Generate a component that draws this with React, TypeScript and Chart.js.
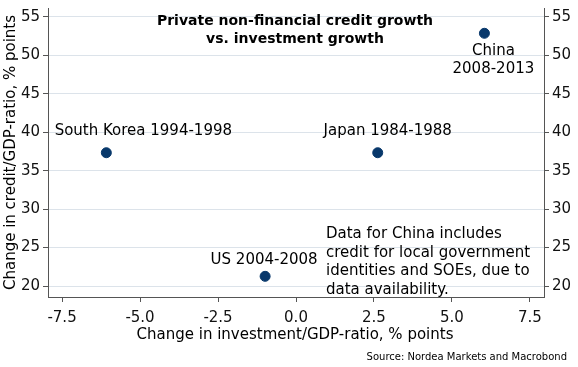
import React, { useEffect, useRef } from "react";
import { Chart, registerables } from "chart.js";

Chart.register(...registerables);

// ---- data ----
const pointLabels: string[][] = [
  ["South Korea 1994-1998"],
  ["Japan 1984-1988"],
  ["China", "2008-2013"],
  ["US 2004-2008"],
];
const investmentChange = [-6.08, 2.62, 6.04, -0.99];
const creditChange = [37.34, 37.34, 52.88, 21.26];
const titleLines = ["Private non-financial credit growth", "vs. investment growth"];
const noteLines = [
  "Data for China includes",
  "credit for local government",
  "identities and SOEs, due to",
  "data availability.",
];
const xAxisTitle = "Change in investment/GDP-ratio, % points";
const yAxisTitle = "Change in credit/GDP-ratio, % points";
const sourceText = "Source: Nordea Markets and Macrobond";
const xRange = [-7.95, 7.95];
const yRange = [18.57, 56.17];

// ---- layout (label offsets relative to point, in px: dx, baseline dy) ----
const labelOffsets: number[][] = [
  [37, -17.7],
  [10, -17.7],
  [9, 21.7],
  [-1, -12.3],
];

const FONT = '"DejaVu Sans", Verdana, sans-serif';
const NAVY = "#08386b";
const AXIS = "#555555";
const GRID = "#dce3ea";

const textPlugin = {
  id: "texts",
  afterDraw(chart: any) {
    const { ctx } = chart;
    ctx.save();
    ctx.fillStyle = "#000";
    ctx.textBaseline = "alphabetic";

    // title
    ctx.font = `bold 14px ${FONT}`;
    ctx.textAlign = "center";
    titleLines.forEach((t, i) => ctx.fillText(t, 295, 25 + i * 18));

    // point labels
    ctx.font = `15px ${FONT}`;
    const meta = chart.getDatasetMeta(0);
    meta.data.forEach((pt: any, i: number) => {
      const [dx, dy] = labelOffsets[i];
      pointLabels[i].forEach((line, j) => {
        ctx.fillText(line, pt.x + dx, pt.y + dy + j * 18.3);
      });
    });

    // note
    ctx.textAlign = "left";
    noteLines.forEach((t, i) => ctx.fillText(t, 326, 238.3 + i * 18.4));

    // axis titles
    ctx.textAlign = "center";
    ctx.fillText(xAxisTitle, 295, 339);
    ctx.save();
    ctx.translate(15, 152.5);
    ctx.rotate(-Math.PI / 2);
    ctx.fillText(yAxisTitle, 0, 0);
    ctx.restore();

    // source
    ctx.font = `10px ${FONT}`;
    ctx.textAlign = "right";
    ctx.fillText(sourceText, 567, 360);
    ctx.restore();
  },
};

export default function App() {
  const ref = useRef<HTMLCanvasElement | null>(null);
  useEffect(() => {
    if (!ref.current) return;
    Chart.defaults.font.family = FONT;
    const tickFont = { size: 15, family: FONT };
    const chart = new Chart(ref.current, {
      type: "scatter",
      data: {
        datasets: [
          {
            data: investmentChange.map((x, i) => ({ x, y: creditChange[i] })),
            backgroundColor: NAVY,
            borderColor: NAVY,
            borderWidth: 1,
            pointRadius: 5,
            pointHoverRadius: 5,
          },
        ],
      },
      options: {
        responsive: false,
        animation: false,
        devicePixelRatio: 1,
        layout: { padding: { top: 8, left: 0, right: 0, bottom: 0 } },
        plugins: {
          legend: { display: false },
          title: { display: false },
          tooltip: { enabled: false },
        },
        scales: {
          x: {
            type: "linear",
            position: "bottom",
            min: xRange[0],
            max: xRange[1],
            ticks: {
              stepSize: 2.5,
              includeBounds: false,
              font: tickFont,
              color: "#111",
              padding: 7,
              maxRotation: 0,
              callback: (v: any) => Number(v).toFixed(1),
            },
            grid: {
              drawOnChartArea: false,
              drawTicks: true,
              tickLength: 5,
              tickColor: AXIS,
            },
            border: { display: true, color: AXIS, width: 1 },
            afterFit: (s: any) => {
              s.height = 70;
              s.paddingLeft = 0;
              s.paddingRight = 0;
            },
          },
          y: {
            type: "linear",
            position: "left",
            min: yRange[0],
            max: yRange[1],
            ticks: {
              stepSize: 5,
              includeBounds: false,
              font: tickFont,
              color: "#111",
              padding: 3,
              callback: (v: any) => String(v),
            },
            grid: {
              drawOnChartArea: true,
              color: GRID,
              drawTicks: true,
              tickLength: 5,
              tickColor: AXIS,
            },
            border: { display: true, color: AXIS, width: 1 },
            afterFit: (s: any) => {
              s.width = 48;
              s.paddingTop = 0;
              s.paddingBottom = 0;
            },
          },
          y2: {
            type: "linear",
            position: "right",
            min: yRange[0],
            max: yRange[1],
            ticks: {
              stepSize: 5,
              includeBounds: false,
              font: tickFont,
              color: "#111",
              padding: 3,
              callback: (v: any) => String(v),
            },
            grid: {
              drawOnChartArea: false,
              drawTicks: true,
              tickLength: 5,
              tickColor: AXIS,
            },
            border: { display: true, color: AXIS, width: 1 },
            afterFit: (s: any) => {
              s.width = 34;
              s.paddingTop = 0;
              s.paddingBottom = 0;
            },
          },
        },
      } as any,
      plugins: [textPlugin],
    });
    return () => chart.destroy();
  }, []);

  return (
    <div style={{ position: "fixed", left: 0, top: 0, width: 578, height: 367, background: "#fff" }}>
      <canvas ref={ref} width={578} height={367} style={{ display: "block" }} />
    </div>
  );
}
